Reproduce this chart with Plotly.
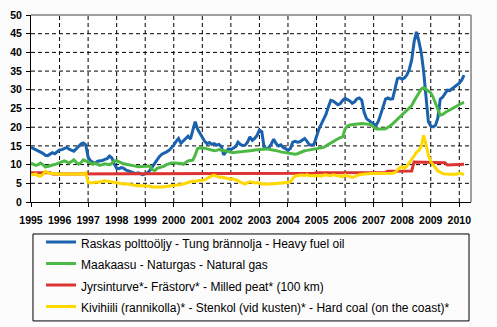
import plotly.graph_objects as go

# Monthly prices, January 1995 - March 2010
start_year = 1995
tick_years = list(range(1995, 2011))
y_ticks = list(range(0, 55, 5))

heavy_fuel_oil = [
    14.6, 14.3, 14.0, 13.8, 13.4, 13.0, 12.5, 12.4, 12.8, 13.2, 12.9, 13.4,  # 1995
    13.9, 14.0, 14.3, 14.6, 14.1, 13.8, 13.6, 14.2, 14.8, 15.5, 15.8, 15.3,  # 1996
    12.0, 11.0, 10.6, 10.4, 10.9, 11.0, 11.1, 11.4, 11.6, 12.3, 11.8, 10.2,  # 1997
    9.0, 8.9, 9.2, 9.0, 8.5, 8.3, 8.0, 7.9, 7.6, 7.8, 7.5, 7.3,  # 1998
    7.5, 7.8, 8.5, 9.5, 10.2, 11.3, 12.2, 12.8, 13.0, 13.4, 13.8, 14.4,  # 1999
    15.2, 16.2, 17.0, 15.7, 16.4, 17.1, 17.6, 16.8, 19.0, 21.5, 19.5, 18.5,  # 2000
    17.3, 16.2, 15.6, 15.9, 15.4, 15.6, 15.2, 15.4, 14.8, 12.6, 13.5, 14.2,  # 2001
    14.0, 14.3, 14.8, 16.0, 15.4, 15.1, 15.2, 16.0, 17.4, 16.5, 17.0, 17.8,  # 2002
    19.2, 18.8, 14.5, 14.3, 14.5, 15.5, 16.8, 15.6, 15.0, 15.3, 14.6, 14.3,  # 2003
    13.8, 14.3, 16.0, 16.2, 16.0, 16.1, 16.5, 17.0, 16.2, 15.3, 15.2, 15.5,  # 2004
    17.5, 19.5, 20.8, 22.0, 23.5, 25.5, 27.2, 27.0, 26.5, 26.0, 26.3, 27.2,  # 2005
    27.7, 27.4, 27.0, 26.4, 26.8, 27.6, 27.8, 27.2, 24.0, 22.3, 21.8, 21.2,  # 2006
    20.8, 20.5, 21.6, 23.5, 25.5, 27.5, 27.8, 27.5, 27.6, 30.0, 33.0, 33.2,  # 2007
    32.8, 33.2, 34.0, 35.5, 38.0, 42.8, 45.5, 43.0, 40.0, 35.0, 27.0, 21.5,  # 2008
    20.3, 20.1, 20.5, 22.5, 27.5, 28.0, 29.0, 29.9, 29.8, 30.3, 31.0, 31.5,  # 2009
    31.8, 32.6, 33.9,  # 2010
]

natural_gas = [
    10.4, 10.2, 9.8, 10.0, 10.4, 10.0, 9.4, 9.5, 9.8, 9.9, 10.0, 10.2,  # 1995
    10.4, 10.7, 11.0, 10.7, 10.4, 10.8, 11.3, 10.6, 10.1, 10.5, 11.3, 11.0,  # 1996
    10.7, 10.3, 10.1, 10.4, 10.0, 9.8, 10.0, 10.2, 10.1, 10.0, 10.3, 11.0,  # 1997
    11.0, 10.7, 10.5, 10.2, 10.1, 10.0, 9.9, 9.8, 9.6, 9.4, 9.4, 9.4,  # 1998
    9.5, 9.5, 9.6, 8.6, 8.4, 9.0, 9.2, 9.3, 9.6, 10.0, 10.3, 10.4,  # 1999
    10.4, 10.4, 10.5, 10.3, 10.1, 10.6, 11.0, 11.1, 11.2, 12.5, 14.3, 14.5,  # 2000
    14.5, 14.4, 14.2, 14.0, 13.8, 13.7, 13.8, 14.0, 13.9, 13.8, 13.6, 13.4,  # 2001
    13.3, 13.2, 13.3, 13.4, 13.6, 13.5, 13.6, 13.6, 13.7, 13.8, 13.9, 14.0,  # 2002
    14.0, 14.1, 14.2, 14.2, 14.1, 14.0, 13.9, 13.7, 13.6, 13.4, 13.3, 13.1,  # 2003
    13.0, 12.9, 12.9, 12.8, 12.9, 13.2, 13.5, 13.7, 13.8, 13.9, 14.0, 14.1,  # 2004
    14.2, 14.3, 14.4, 14.6, 15.0, 15.4, 15.9, 16.2, 16.6, 16.9, 17.2, 17.4,  # 2005
    19.5, 20.3, 20.6, 20.7, 20.8, 20.9, 21.0, 21.0, 20.9, 20.8, 20.8, 20.7,  # 2006
    20.0, 19.6, 19.5, 19.4, 19.5, 19.6, 19.9, 20.4, 20.9, 21.5, 22.2, 22.9,  # 2007
    23.5, 24.0, 24.6, 25.2, 25.8, 27.0, 28.2, 29.2, 30.2, 30.6, 30.2, 29.8,  # 2008
    29.2, 28.0, 26.3, 24.6, 23.2, 23.4, 23.9, 24.3, 24.6, 25.0, 25.4, 25.8,  # 2009
    26.1, 26.4, 26.6,  # 2010
]

milled_peat = [
    7.8, 7.8, 7.8, 7.8, 7.8, 7.8, 7.8, 7.8, 7.8, 7.5, 7.5, 7.5,  # 1995
    7.5, 7.5, 7.5, 7.5, 7.5, 7.5, 7.5, 7.5, 7.5, 7.5, 7.5, 7.5,  # 1996
    7.5, 7.5, 7.5, 7.5, 7.5, 7.5, 7.5, 7.5, 7.5, 7.5, 7.5, 7.5,  # 1997
    7.5, 7.5, 7.5, 7.5, 7.5, 7.5, 7.5, 7.5, 7.5, 7.5, 7.5, 7.5,  # 1998
    7.5, 7.5, 7.5, 7.5, 7.5, 7.5, 7.5, 7.5, 7.5, 7.5, 7.5, 7.5,  # 1999
    7.5, 7.5, 7.5, 7.5, 7.5, 7.5, 7.5, 7.5, 7.5, 7.5, 7.5, 7.5,  # 2000
    7.5, 7.5, 7.5, 7.5, 7.5, 7.5, 7.5, 7.5, 7.5, 7.5, 7.5, 7.5,  # 2001
    7.5, 7.5, 7.5, 7.5, 7.5, 7.5, 7.5, 7.5, 7.5, 7.5, 7.5, 7.5,  # 2002
    7.5, 7.5, 7.5, 7.5, 7.5, 7.6, 7.6, 7.6, 7.6, 7.6, 7.6, 7.6,  # 2003
    7.6, 7.6, 7.6, 7.6, 7.6, 7.7, 7.7, 7.7, 7.7, 7.7, 7.7, 7.7,  # 2004
    7.8, 7.8, 7.8, 7.8, 7.8, 7.8, 7.8, 7.8, 7.8, 7.8, 7.8, 7.9,  # 2005
    7.9, 7.9, 7.9, 7.9, 7.9, 7.9, 7.9, 7.9, 7.9, 7.9, 7.9, 7.9,  # 2006
    7.9, 7.9, 7.9, 7.9, 7.9, 7.9, 8.2, 8.2, 8.2, 8.2, 8.2, 8.2,  # 2007
    8.3, 8.3, 8.3, 8.3, 8.3, 10.7, 10.7, 10.7, 10.7, 10.7, 10.7, 10.7,  # 2008
    10.7, 10.7, 10.7, 10.7, 10.7, 10.6, 10.5, 9.9, 9.9, 10.0, 10.1, 10.1,  # 2009
    10.1, 10.1, 10.1,  # 2010
]

hard_coal = [
    7.2, 7.3, 7.5, 7.0, 6.9, 7.4, 8.2, 7.9, 7.6, 7.6, 7.5, 7.5,  # 1995
    7.5, 7.5, 7.5, 7.5, 7.5, 7.5, 7.5, 7.5, 7.5, 7.5, 7.5, 7.8,  # 1996
    5.2, 5.1, 5.3, 5.3, 5.3, 5.3, 5.5, 5.7, 5.6, 5.5, 5.5, 5.4,  # 1997
    5.3, 5.2, 5.0, 4.8, 4.9, 4.8, 4.6, 4.7, 4.5, 4.3, 4.4, 4.4,  # 1998
    4.4, 4.3, 4.2, 4.0, 4.0, 3.9, 3.8, 4.0, 4.1, 4.2, 4.2, 4.3,  # 1999
    4.4, 4.5, 4.6, 4.6, 4.8, 5.0, 5.3, 5.4, 5.6, 5.5, 5.7, 5.8,  # 2000
    5.8, 5.9, 6.3, 6.7, 7.0, 7.2, 6.9, 6.6, 6.7, 6.6, 6.4, 6.2,  # 2001
    6.1, 6.2, 6.0, 5.7, 5.3, 5.0, 4.8, 5.2, 5.4, 5.3, 5.1, 5.2,  # 2002
    4.9, 4.8, 4.8, 4.7, 4.8, 4.8, 4.9, 5.0, 5.0, 5.0, 5.1, 5.1,  # 2003
    5.2, 5.4, 6.3, 6.9, 7.1, 7.2, 7.2, 7.1, 7.3, 7.0, 7.1, 7.2,  # 2004
    7.1, 7.0, 6.9, 7.2, 7.3, 7.1, 7.0, 7.3, 7.2, 7.1, 6.9, 6.8,  # 2005
    7.3, 6.9, 6.8, 6.6, 6.8, 7.1, 7.3, 7.4, 7.5, 7.5, 7.6, 7.6,  # 2006
    7.6, 7.6, 7.6, 7.6, 7.6, 7.6, 7.7, 7.7, 7.7, 7.9, 8.6, 9.2,  # 2007
    9.4, 9.0, 9.6, 10.4, 11.5, 12.3, 13.3, 13.8, 14.8, 17.8, 15.5, 12.5,  # 2008
    10.8, 10.0, 9.0, 8.3, 8.0, 7.6, 7.5, 7.4, 7.4, 7.4, 7.4, 7.4,  # 2009
    7.8, 7.6, 7.3,  # 2010
]

series_names = [
    "Raskas polttoöljy - Tung brännolja - Heavy fuel oil",
    "Maakaasu - Naturgas - Natural gas",
    "Jyrsinturve*- Frästorv* - Milled peat* (100 km)",
    "Kivihiili (rannikolla)* - Stenkol (vid kusten)* - Hard coal (on the coast)*",
]
series_colors = ["#1a62ad", "#4cb944", "#dd3333", "#ffd800"]
series_values = [heavy_fuel_oil, natural_gas, milled_peat, hard_coal]

x_min, x_max = 1995, 2010.41
y_min, y_max = 0, 50

fig = go.Figure()

# dashed grid, drawn first so the series sit on top of it
grid_x, grid_y = [], []
for yr in tick_years[1:]:
    grid_x += [yr, yr, None]
    grid_y += [y_min, y_max, None]
for v in y_ticks[1:-1]:
    grid_x += [x_min, x_max, None]
    grid_y += [v, v, None]
fig.add_trace(go.Scatter(
    x=grid_x, y=grid_y, mode="lines", showlegend=False, hoverinfo="skip",
    line=dict(color="black", width=1, dash="4px,3px"),
))

for name, color, vals in zip(series_names, series_colors, series_values):
    months = [start_year + m / 12 for m in range(len(vals))]
    fig.add_trace(go.Scatter(
        x=months, y=vals, mode="lines",
        # legend rows are spaced by the legend font; the label itself is 12px
        name=f'<span style="font-size:12px">{name}</span>',
        line=dict(color=color, width=3),
    ))

tick_font = dict(family="Liberation Sans, Arial, sans-serif", size=10.5, color="black", weight="bold")

shapes = [
    # grey top and right edges of the plot frame
    dict(type="line", xref="paper", yref="paper", x0=0, x1=1, y0=1, y1=1,
         line=dict(color="#808080", width=1.5)),
    dict(type="line", xref="paper", yref="paper", x0=1, x1=1, y0=0, y1=1,
         line=dict(color="#808080", width=1.5)),
    # legend frame
    dict(type="rect", xref="paper", yref="paper",
         x0=0.0045, x1=0.9955, y0=-0.171, y1=-0.636,
         line=dict(color="black", width=1), fillcolor="rgba(0,0,0,0)"),
]

fig.update_layout(
    width=497, height=327,
    margin=dict(l=31, r=26, t=15, b=125, autoexpand=False),
    paper_bgcolor="#fcfcfc",
    plot_bgcolor="white",
    showlegend=True,
    legend=dict(
        x=0.0228, y=-0.130, xanchor="left", yanchor="top",
        bgcolor="rgba(0,0,0,0)", borderwidth=0,
        font=dict(family="Liberation Sans, Arial, sans-serif", size=14.2, color="black"),
    ),
    xaxis=dict(
        range=[x_min, x_max],
        tickmode="array", tickvals=tick_years, ticktext=[str(y) for y in tick_years],
        tickfont=tick_font, ticklabelstandoff=4,
        ticks="outside", ticklen=4, tickcolor="black",
        showline=True, linecolor="black", linewidth=1,
        showgrid=False, zeroline=False,
    ),
    yaxis=dict(
        range=[y_min, y_max], tickvals=y_ticks,
        tickfont=tick_font, ticklabelstandoff=2,
        ticks="outside", ticklen=4, tickcolor="black",
        showline=True, linecolor="black", linewidth=1,
        showgrid=False, zeroline=False,
    ),
    shapes=shapes,
)

fig.write_html("out.html")
